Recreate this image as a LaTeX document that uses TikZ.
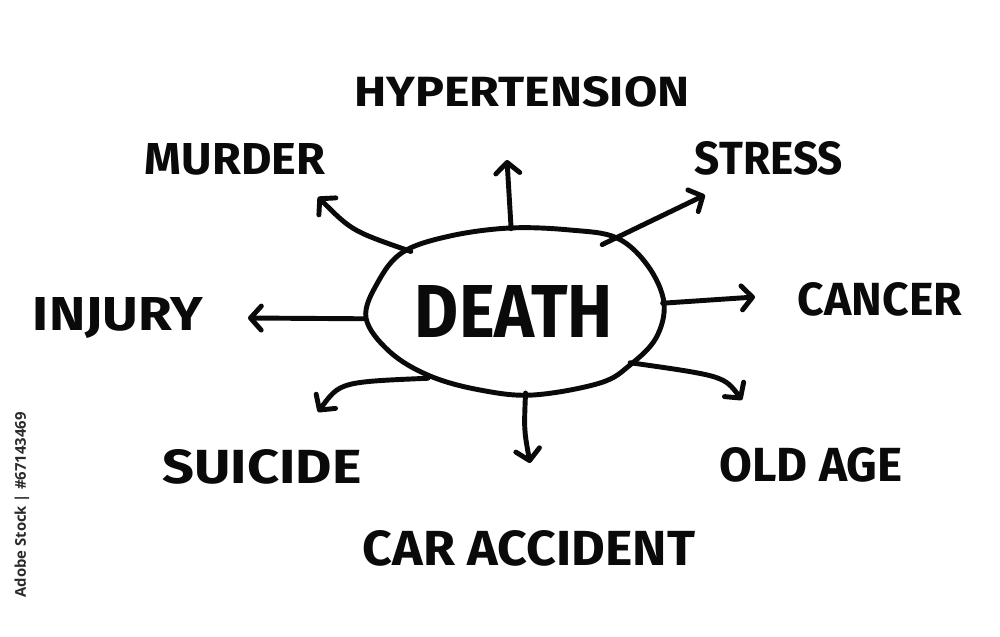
\documentclass[tikz,border=0pt]{standalone}
\usepackage{fontspec}
\setmainfont{Fira Sans}
\newfontfamily\wmfont{Open Sans}
\usetikzlibrary{arrows.meta,shapes.geometric}
\newlength\pxu
\setlength\pxu{0.025cm}
\newcommand{\fitlbl}[3]{\resizebox{#1\pxu}{#2\pxu}{\bfseries #3}}
\definecolor{ink}{HTML}{0A0A0A}
\definecolor{wm}{HTML}{2A2A2A}
\begin{document}
\begin{tikzpicture}[x=0.025cm,y=-0.025cm,
  conn/.style={draw=ink,line width=3.5pt,line cap=round,line join=round,
    -{Straight Barb[length=0.27cm,width=0.6cm,line cap=round,line join=round]}},
  lbl/.style={inner sep=0pt,outer sep=0pt,text=ink},
  blob/.style={draw=ink,line width=3.5pt,line join=round}]
\useasboundingbox[fill=white] (0,0) rectangle (1000,637);

% central blob
\draw[blob] plot[smooth cycle,tension=0.6] coordinates {
  (366,318) (378,282) (403,252) (450,236) (510,228) (570,230) (617,238)
  (648,266) (664,303) (656,338) (630,365) (600,383) (533,395) (480,390)
  (430,376) (390,352)};
\node[ellipse,minimum width=7.45cm,minimum height=4.1cm,inner sep=0pt,text=ink]
  (death) at (514,311) {\fitlbl{198}{52}{DEATH}};

% labels
\node[lbl] (hyp)    at (522,92)  {\fitlbl{335}{30}{HYPERTENSION}};
\node[lbl] (murder) at (235,159) {\fitlbl{180}{31}{MURDER}};
\node[lbl] (stress) at (769,158) {\fitlbl{148}{33}{STRESS}};
\node[lbl] (cancer) at (880,299) {\fitlbl{164}{33}{CANCER}};
\node[lbl] (injury) at (118,318) {\fitlbl{170}{33}{INJURY}};
\node[lbl] (suicide) at (262,467) {\fitlbl{199}{34}{SUICIDE}};
\node[lbl] (oldage) at (811,465) {\fitlbl{183}{34}{OLD AGE}};
\node[lbl] (car)    at (529,548) {\fitlbl{332}{35}{CAR ACCIDENT}};

% arrow ends
\coordinate (eHyp) at (507,160);
\coordinate (eMur) at (318,197);
\coordinate (eStr) at (705,195);
\coordinate (eCan) at (755,297);
\coordinate (eInj) at (248,318);
\coordinate (eSui) at (318,412);
\coordinate (eOld) at (742,400);
\coordinate (eCar) at (530,463);

% connectors
\draw[conn] (death.92) -- (eHyp);
\draw[conn] (death.150) .. controls (352,231) .. (eMur);
\draw[conn] (death.37) -- (eStr);
\draw[conn] (death.3) -- (eCan);
\draw[conn] (death.183) -- (eInj);
\draw[conn] (death.218) .. controls (340,382) .. (eSui);
\draw[conn] (death.336) .. controls (724,376) .. (eOld);
\draw[conn] (death.278) .. controls (524,430) .. (eCar);

% stock watermark caption
\node[inner sep=0pt,rotate=90,text=wm] (wmark) at (22,505)
  {\resizebox{185\pxu}{!}{\wmfont\bfseries Adobe Stock | \#67143469}};
\end{tikzpicture}
\end{document}
